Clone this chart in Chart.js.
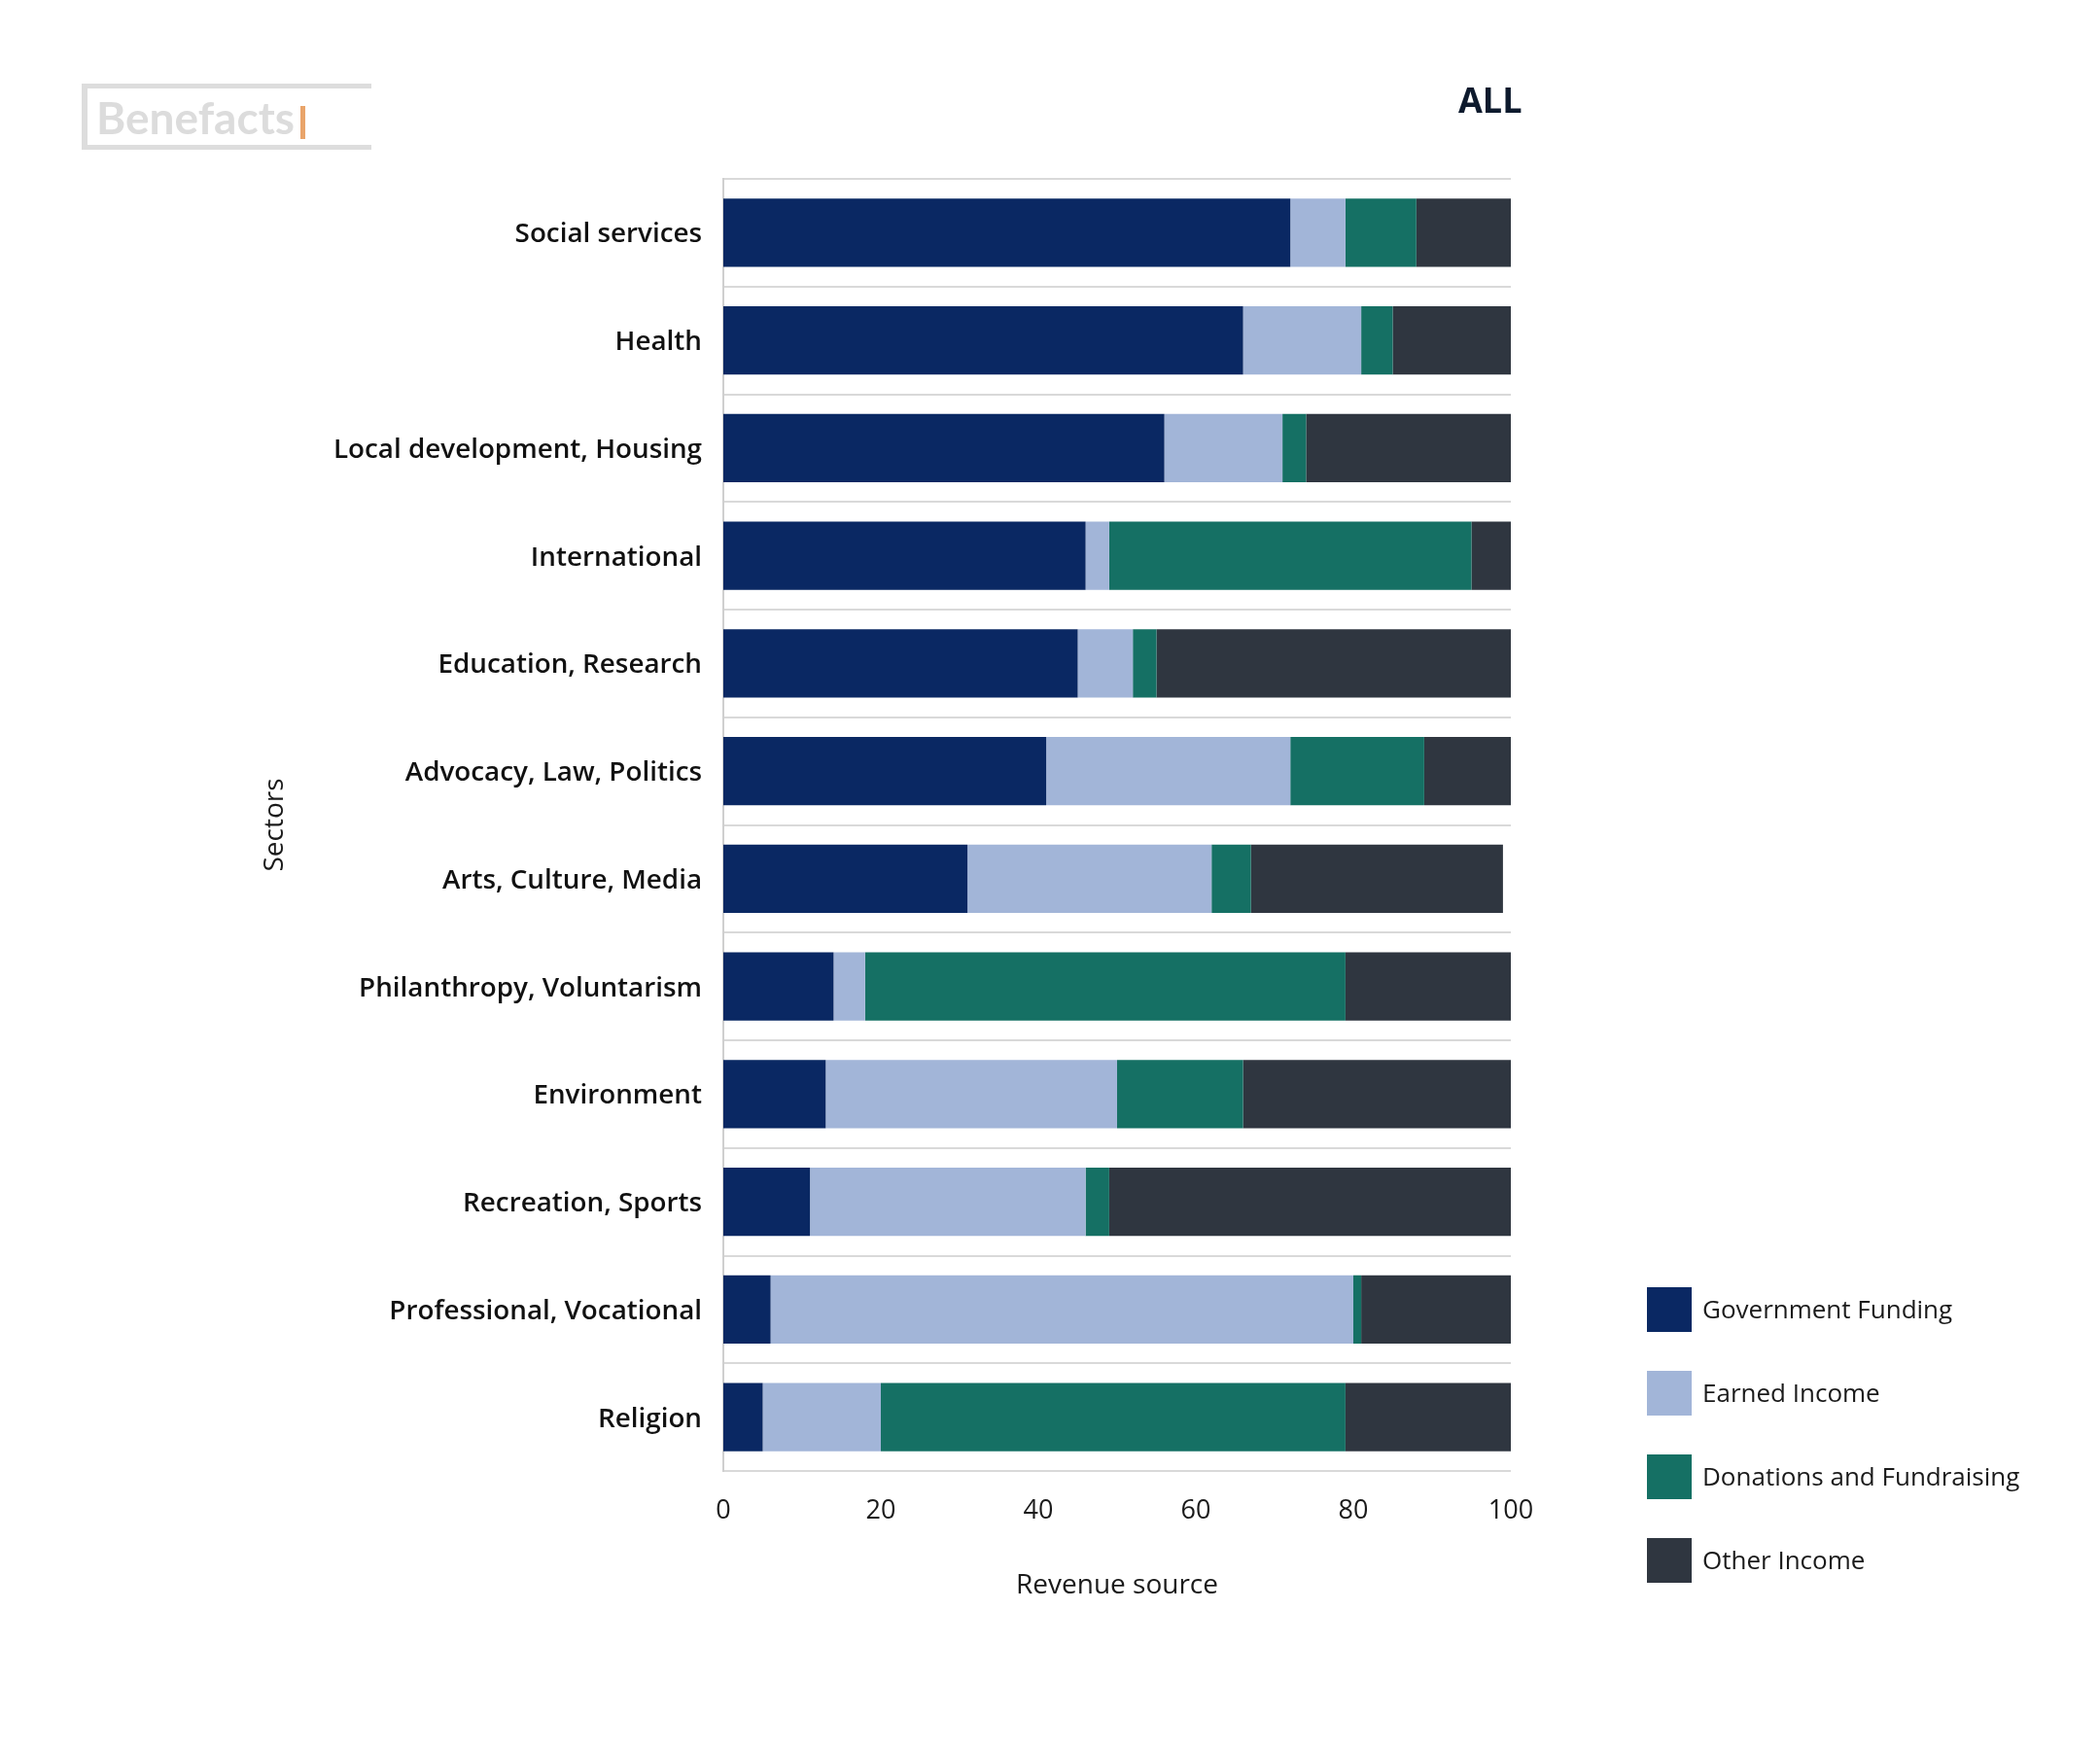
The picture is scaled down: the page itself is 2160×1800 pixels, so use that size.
<!DOCTYPE html>
<html>
<head>
<meta charset="utf-8">
<script src="https://cdn.jsdelivr.net/npm/chart.js@4.4.1/dist/chart.umd.min.js"></script>
<style>
  html, body { margin: 0; padding: 0; background: #ffffff; overflow: hidden; }
  #wrap { width: 2160px; height: 1800px; overflow: hidden; }
  #graficaSectores { display: block; }
</style>
</head>
<body>
<div id="wrap"><canvas id="graficaSectores" width="2160" height="1800"></canvas></div>
<script>
// Datos (porcentaje de ingresos por sector)
const sectores = [
    'Social services', 'Health', 'Local development, Housing', 'International',
    'Education, Research', 'Advocacy, Law, Politics', 'Arts, Culture, Media',
    'Philanthropy, Voluntarism', 'Environment', 'Recreation, Sports',
    'Professional, Vocational', 'Religion'
];
const fondosGobierno = [72, 66, 56, 46, 45, 41, 31, 14, 13, 11, 6, 5];
const ingresosPropios = [7, 15, 15, 3, 7, 31, 31, 4, 37, 35, 74, 15];
const donaciones = [9, 4, 3, 46, 3, 17, 5, 61, 16, 3, 1, 59];
const otrosIngresos = [12, 15, 26, 5, 45, 11, 32, 21, 34, 51, 19, 21];
const ticksX = [0, 20, 40, 60, 80, 100];

const fuente = "'Open Sans', 'Noto Sans', sans-serif";

// Leyenda, título y logo dibujados a mano
const decoracion = {
    id: 'decoracion',
    afterDraw(chart) {
        const ctx = chart.ctx;
        ctx.save();

        // Logo Benefacts
        ctx.fillStyle = '#dddddd';
        ctx.fillRect(84, 86, 298, 5);
        ctx.fillRect(84, 149, 298, 5);
        ctx.fillRect(84, 86, 6, 68);
        ctx.font = "bold 46px Lato, sans-serif";
        ctx.fillStyle = '#dcdcdc';
        ctx.textAlign = 'left';
        ctx.textBaseline = 'alphabetic';
        ctx.fillText('Benefacts', 99, 138);
        ctx.fillStyle = '#e9a46a';
        ctx.fillRect(309, 109, 5, 34);

        // Título
        ctx.font = "bold 36px " + fuente;
        ctx.fillStyle = '#0d1a2d';
        ctx.fillText('ALL', 1500, 116);

        // Leyenda
        ctx.font = "26px " + fuente;
        ctx.textBaseline = 'middle';
        chart.data.datasets.forEach((ds, i) => {
            const y = 1324 + i * 86;
            ctx.fillStyle = ds.backgroundColor;
            ctx.fillRect(1694, y, 46, 46);
            ctx.fillStyle = '#1a1a1a';
            ctx.fillText(ds.label, 1751, y + 25);
        });
        ctx.restore();
    }
};

const ctx = document.getElementById('graficaSectores').getContext('2d');
new Chart(ctx, {
    type: 'bar',
    data: {
        labels: sectores,
        datasets: [
            { label: 'Government Funding', data: fondosGobierno, backgroundColor: '#0a2863' },
            { label: 'Earned Income', data: ingresosPropios, backgroundColor: '#a2b5d8' },
            { label: 'Donations and Fundraising', data: donaciones, backgroundColor: '#157064' },
            { label: 'Other Income', data: otrosIngresos, backgroundColor: '#2f3640' }
        ]
    },
    options: {
        indexAxis: 'y',
        responsive: false,
        animation: false,
        devicePixelRatio: 1,
        categoryPercentage: 0.635,
        barPercentage: 1,
        layout: {
            padding: { top: 184, right: 606, bottom: 0, left: 0 }
        },
        plugins: {
            legend: { display: false },
            title: { display: false },
            tooltip: { enabled: false }
        },
        scales: {
            x: {
                stacked: true,
                min: 0,
                max: 100,
                afterFit: function(scale) { scale.height = 287; },
                afterBuildTicks: function(scale) {
                    scale.ticks = ticksX.map(v => ({ value: v }));
                },
                grid: { display: false, drawTicks: false },
                border: { display: false },
                ticks: {
                    padding: 25,
                    color: '#1a1a1a',
                    font: { family: fuente, size: 27 }
                },
                title: {
                    display: true,
                    text: 'Revenue source',
                    color: '#1a1a1a',
                    font: { family: fuente, size: 28 },
                    padding: { top: 0, bottom: 152 }
                }
            },
            y: {
                stacked: true,
                afterFit: function(scale) { scale.width = 744; },
                grid: {
                    offset: true,
                    drawTicks: false,
                    color: '#d9d9d9',
                    lineWidth: 2
                },
                border: { display: true, color: '#cfcfcf', width: 2 },
                ticks: {
                    padding: 22,
                    labelOffset: 2,
                    color: '#111111',
                    font: { family: fuente, size: 27.8, weight: '600' }
                },
                title: {
                    display: true,
                    text: 'Sectors',
                    color: '#1a1a1a',
                    font: { family: fuente, size: 28 },
                    padding: { top: 266, bottom: 0 }
                }
            }
        }
    },
    plugins: [decoracion]
});
</script>
</body>
</html>
